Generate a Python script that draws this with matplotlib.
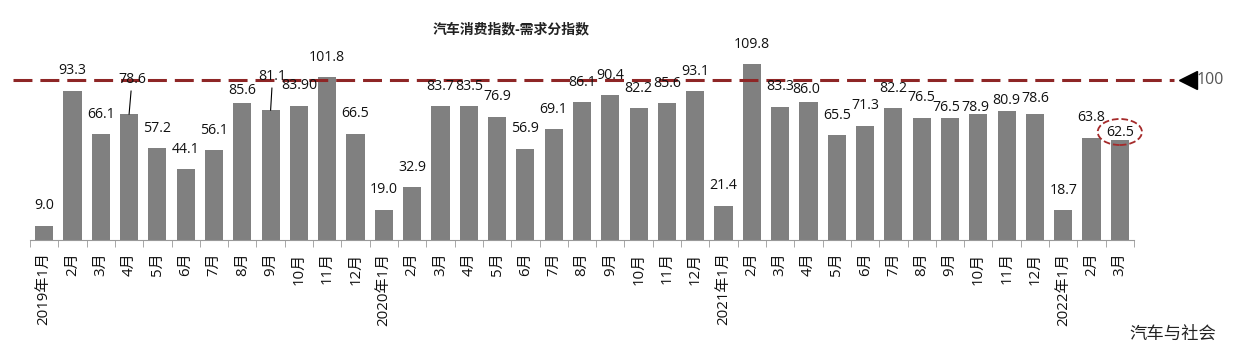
import matplotlib.pyplot as plt
import numpy as np

plt.rcParams['font.family'] = ['Open Sans', 'Noto Sans CJK SC', 'DejaVu Sans']

# --------------------------------------------------
# Data
# --------------------------------------------------
months = ["2019年1月", "2月", "3月", "4月", "5月", "6月", "7月", "8月", "9月", "10月", "11月", "12月",
          "2020年1月", "2月", "3月", "4月", "5月", "6月", "7月", "8月", "9月", "10月", "11月", "12月",
          "2021年1月", "2月", "3月", "4月", "5月", "6月", "7月", "8月", "9月", "10月", "11月", "12月",
          "2022年1月", "2月", "3月"]
values = [9.0, 93.3, 66.1, 78.6, 57.2, 44.1, 56.1, 85.6, 81.1, 83.9, 101.8, 66.5,
          19.0, 32.9, 83.7, 83.5, 76.9, 56.9, 69.1, 86.1, 90.4, 82.2, 85.6, 93.1,
          21.4, 109.8, 83.3, 86.0, 65.5, 71.3, 82.2, 76.5, 76.5, 78.9, 80.9, 78.6,
          18.7, 63.8, 62.5]
labels = ["9.0", "93.3", "66.1", "78.6", "57.2", "44.1", "56.1", "85.6", "81.1", "83.90", "101.8", "66.5",
          "19.0", "32.9", "83.7", "83.5", "76.9", "56.9", "69.1", "86.1", "90.4", "82.2", "85.6", "93.1",
          "21.4", "109.8", "83.3", "86.0", "65.5", "71.3", "82.2", "76.5", "76.5", "78.9", "80.9", "78.6",
          "18.7", "63.8", "62.5"]
baseline = 100

# label offsets (pixels) where the labels were moved by hand
label_shift = {3: (3, 35), 7: (0, 13), 8: (2, 34), 27: (-2, 13), 32: (-4, 10),
               33: (-3, 6), 34: (0, 10), 35: (0, 16), 38: (0, 8)}
leader = [3, 8]

# --------------------------------------------------
# Plot
# --------------------------------------------------
W, H = 1234, 351
step = 28.3  # pixels per category
fig = plt.figure(figsize=(W / 100, H / 100), dpi=100)
ax = fig.add_axes([10 / W, (H - 240) / H, 1220 / W, 240 / H])

x = np.arange(len(values))
ax.bar(x, values, width=0.64, color="#808080", zorder=2)

ax.set_xlim(-0.5 - 20 / step, 38.5 + 96 / step)
ax.set_ylim(0, 150)

for i, (v, t) in enumerate(zip(values, labels)):
    dx, dy = label_shift.get(i, (0, 20))
    kw = {}
    if i in leader:
        kw["arrowprops"] = dict(arrowstyle="-", color="black", lw=0.8, shrinkA=1, shrinkB=0)
    if i == len(values) - 1:
        kw["bbox"] = dict(boxstyle="ellipse,pad=0.12", fc="none", ec="#a52a2a", ls="--", lw=1.3)
    ax.annotate(t, xy=(i, v), xytext=(dx, dy), textcoords="offset pixels",
                ha="center", va="center", fontsize=10.2, color="#111111",
                annotation_clip=False, zorder=4, **kw)

# 100 reference line
ax.plot([-0.5 - 17 / step, 38.5 + 40 / step], [baseline, baseline], color="#8e2626", lw=2.2,
        dashes=(6.2, 2.6), zorder=3, clip_on=False)
ax.plot([38.5 + 54 / step], [baseline], marker="<", color="black", markersize=13,
        clip_on=False, zorder=3)
ax.text(38.5 + 63 / step, baseline, "100", ha="left", va="center", fontsize=11.5, color="#555555")

# axes styling
for s in ["left", "right", "top"]:
    ax.spines[s].set_visible(False)
ax.spines["bottom"].set_color("#999999")
ax.spines["bottom"].set_bounds(-0.5, 38.5)
ax.set_yticks([])
ax.set_xticks(x)
ax.set_xticklabels(months, rotation=90, fontsize=10.8, color="#111111")
ax.set_xticks(np.arange(-0.5, 39, 1), minor=True)
ax.tick_params(axis="x", which="major", length=0, pad=9)
ax.tick_params(axis="x", which="minor", length=5, color="#999999", direction="out")

fig.text(511 / W, 1 - 29 / H, "汽车消费指数-需求分指数", ha="center", va="center",
         fontsize=10, fontweight="bold", color="#222222")
fig.text(1173 / W, 1 - 335 / H, "汽车与社会", ha="center", va="center",
         fontsize=12.5, color="#222222")

plt.savefig("out.png", dpi=100)
